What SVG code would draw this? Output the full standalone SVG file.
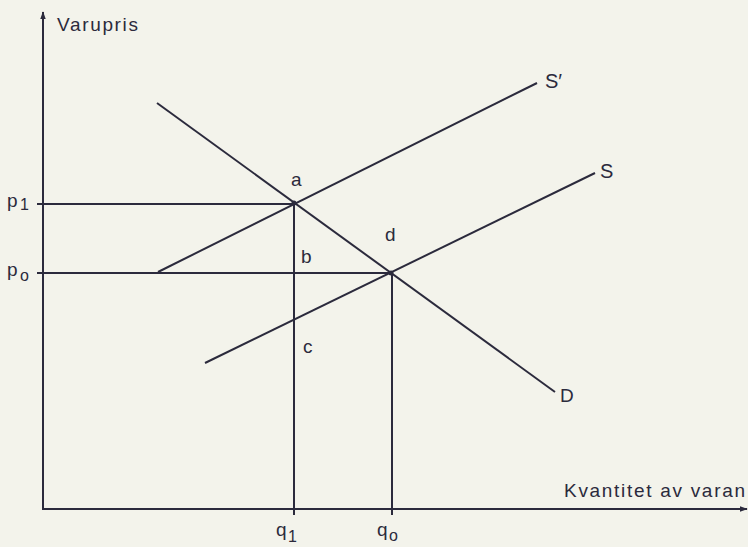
<svg xmlns="http://www.w3.org/2000/svg" width="748" height="547" viewBox="0 0 748 547">
<defs>
<marker id="arr" viewBox="0 0 10 10" refX="9" refY="5" markerWidth="8" markerHeight="8" markerUnits="userSpaceOnUse" orient="auto">
<path d="M0,1.5 L10,5 L0,8.5 z" fill="#2b2a3c"/>
</marker>
<style>
.ln{stroke:#2b2a3c;stroke-width:2;fill:none}
.t{font-family:"Liberation Sans",Arial,sans-serif;font-size:19px;fill:#2b2a3c}
.s{font-family:"Liberation Sans",Arial,sans-serif;font-size:16px;fill:#2b2a3c}
</style>
</defs>
<rect width="748" height="547" fill="#f3f3eb"/>
<g id="axes">
<line class="ln" x1="43" y1="510" x2="43" y2="12" marker-end="url(#arr)"/>
<line class="ln" x1="43" y1="509" x2="747" y2="509" marker-end="url(#arr)"/>
<text class="t" x="57" y="31" textLength="81" lengthAdjust="spacing">Varupris</text>
<text class="t" x="564" y="497" textLength="181" lengthAdjust="spacing">Kvantitet av varan</text>
</g>
<g id="connectors">
<line class="ln" x1="157" y1="103" x2="555" y2="392"/>
<line class="ln" x1="158" y1="272" x2="537" y2="83"/>
<line class="ln" x1="205" y1="363" x2="595" y2="173"/>
<line class="ln" x1="37" y1="204" x2="294" y2="204"/>
<line class="ln" x1="37" y1="273" x2="391" y2="273"/>
<line class="ln" x1="294" y1="204" x2="294" y2="515"/>
<line class="ln" x1="392" y1="273" x2="392" y2="515"/>
</g>
<g id="point-a"><circle cx="294" cy="203" r="2.5" fill="#2b2a3c"/><text class="t" x="291" y="186">a</text></g>
<g id="point-b"><text class="t" x="301" y="263">b</text></g>
<g id="point-c"><text class="t" x="303" y="353">c</text></g>
<g id="point-d"><circle cx="391" cy="273" r="2.5" fill="#2b2a3c"/><text class="t" x="385" y="241">d</text></g>
<g id="label-S-prime"><text class="t" x="545" y="88" style="font-size:20px">S′</text></g>
<g id="label-S"><text class="t" x="600" y="178" style="font-size:20px">S</text></g>
<g id="label-D"><text class="t" x="560" y="402">D</text></g>
<g id="label-p1"><text class="t" x="7" y="207">p</text><text class="s" x="20" y="210">1</text></g>
<g id="label-p0"><text class="t" x="7" y="276">p</text><text class="s" x="20" y="281">o</text></g>
<g id="label-q1"><text class="t" x="276" y="536">q</text><text class="s" x="288" y="542">1</text></g>
<g id="label-q0"><text class="t" x="377" y="536">q</text><text class="s" x="389" y="541">o</text></g>
</svg>
